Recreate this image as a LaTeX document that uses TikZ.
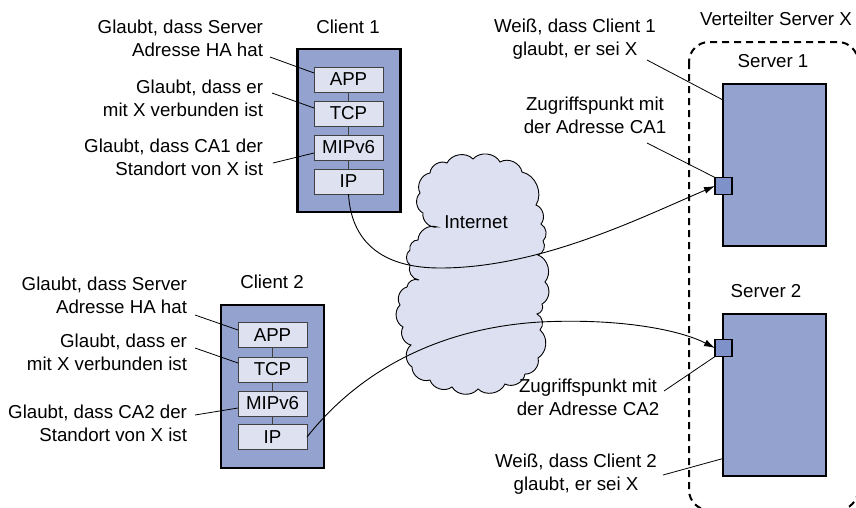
\documentclass[tikz,border=0pt]{standalone}
\usepackage{fontspec}
\setmainfont{Liberation Sans}
\usetikzlibrary{arrows.meta}
\definecolor{boxblue}{RGB}{147,162,207}
\definecolor{layerfill}{RGB}{222,225,240}
\definecolor{cloudfill}{RGB}{221,224,240}
\definecolor{apblue}{RGB}{126,145,200}
\begin{document}
\begin{tikzpicture}[x=1pt,y=-1pt,
  every node/.style={font=\fontsize{18.7}{23}\selectfont, inner sep=0pt, outer sep=0pt},
  host/.style={draw=black, line width=2.4pt, fill=boxblue, minimum width=103, minimum height=163},
  layer/.style={draw=black!75, line width=0.9pt, fill=layerfill, minimum width=69, minimum height=25},
  serverbox/.style={draw=black, line width=2pt, fill=boxblue, minimum width=103, minimum height=162},
  apbox/.style={draw=black, line width=1.1pt, fill=apblue, minimum width=17, minimum height=17},
  leader/.style={draw=black, line width=0.8pt},
  stack/.style={draw=black!75, line width=0.9pt},
  link/.style={draw=black, line width=0.9pt, -{Latex[length=11pt,width=7pt]}},
  note/.style={align=right, anchor=base east},
  cnote/.style={align=center, anchor=base},
]
\useasboundingbox (0,0) rectangle (856,507);

% distributed server boundary (partly outside the page)
\begin{scope}
  \clip (0,0) rectangle (856,507);
  \draw[line width=2pt, dash pattern=on 7pt off 5pt, rounded corners=20pt]
    (689,42) rectangle (858,510);
\end{scope}

% Internet cloud
\path[draw=black, line width=0.9pt, fill=cloudfill]
  (447,163) to[bend left=55] (473,159) to[bend left=55] (500,162)
  to[bend left=55] (522,172) to[bend left=55] (536,205)
  to[bend left=55] (541,224) to[bend left=55] (543,241)
  to[bend left=55] (538,255) to[bend left=55] (545,282)
  to[bend left=55] (542,304) to[bend left=55] (537,314)
  to[bend left=55] (540,330) to[bend left=55] (538,358)
  to[bend left=55] (525,374) to[bend left=55] (505,384)
  to[bend left=55] (478,389) to[bend left=55] (452,387)
  to[bend left=55] (430,380) to[bend left=55] (412,367)
  to[bend left=55] (411,345) to[bend left=55] (403,327)
  to[bend left=55] (400,305) to[bend left=55] (407,287)
  to[bend left=55] (419,280) to[bend left=55] (410,265)
  to[bend left=55] (410,250) to[bend left=55] (418,240)
  to[bend left=55] (437,227) to[bend left=55] (423,213)
  to[bend left=55] (420,193) to[bend left=55] (430,173)
  to[bend left=55] (447,163) -- cycle;
\node (inet) [anchor=base] at (476,228) {Internet};

% Client 1
\node (c1) [host] at (349,130.5) {};
\node (c1t) [anchor=base] at (348,33) {Client 1};
\node (c1app) [layer] at (348.5,79.5) {APP};
\node (c1tcp) [layer] at (348.5,113.5) {TCP};
\node (c1mip) [layer] at (348.5,147.5) {MIPv6};
\node (c1ip)  [layer] at (348.5,181.5) {IP};
\draw[stack] (c1app) -- (c1tcp) (c1tcp) -- (c1mip) (c1mip) -- (c1ip);

% Client 2
\node (c2) [host] at (272.5,386.5) {};
\node (c2t) [anchor=base] at (272,288) {Client 2};
\node (c2app) [layer] at (272.5,335) {APP};
\node (c2tcp) [layer] at (272.5,369.5) {TCP};
\node (c2mip) [layer] at (272.5,403.5) {MIPv6};
\node (c2ip)  [layer] at (272.5,437) {IP};
\draw[stack] (c2app) -- (c2tcp) (c2tcp) -- (c2mip) (c2mip) -- (c2ip);

% Servers
\node (xt) [anchor=base] at (776,25) {Verteilter Server X};
\node (s1) [serverbox] at (774.5,165) {};
\node (s1t) [anchor=base] at (773,67) {Server 1};
\node (ap1) [apbox] at (723.5,186) {};
\node (s2) [serverbox] at (774.5,394.5) {};
\node (s2t) [anchor=base] at (766,297) {Server 2};
\node (ap2) [apbox] at (723.5,348) {};

% Two-line notes, placed by the baseline of their last line
\node (n1a) [note] at (263,56) {Glaubt, dass Server\\Adresse HA hat};
\node (n1b) [note] at (263,116) {Glaubt, dass er\\mit X verbunden ist};
\node (n1c) [note] at (263,175) {Glaubt, dass CA1 der\\Standort von X ist};
\node (n2a) [note] at (187,313) {Glaubt, dass Server\\Adresse HA hat};
\node (n2b) [note] at (187,370) {Glaubt, dass er\\mit X verbunden ist};
\node (n2c) [note] at (187,441) {Glaubt, dass CA2 der\\Standort von X ist};
\node (m1a) [cnote] at (575,55) {Weiß, dass Client 1\\glaubt, er sei X};
\node (m1b) [cnote] at (595,133) {Zugriffspunkt mit\\der Adresse CA1};
\node (m2b) [cnote] at (588,415) {Zugriffspunkt mit\\der Adresse CA2};
\node (m2a) [cnote] at (576,490) {Weiß, dass Client 2\\glaubt, er sei X};

% Leader line ends next to the notes
\coordinate (e1a) at (270,57);
\coordinate (e1b) at (272,93);
\coordinate (e1c) at (273,163);
\coordinate (e2a) at (195,315);
\coordinate (e2b) at (195,348);
\coordinate (e2c) at (195,415);
\coordinate (f1a) at (647,60);
\coordinate (f1b) at (647,143);
\coordinate (f2b) at (664,391);
\coordinate (f2a) at (663,475);

\draw[leader] (e1a) -- ([yshift=6.5pt]c1app.west);
\draw[leader] (e1b) -- ([yshift=5.5pt]c1tcp.west);
\draw[leader] (e1c) -- ([yshift=-5.5pt]c1mip.west);
\draw[leader] (e2a) -- ([yshift=5pt]c2app.west);
\draw[leader] (e2b) -- ([yshift=6.5pt]c2tcp.west);
\draw[leader] (e2c) -- ([yshift=-4.5pt]c2mip.west);
\draw[leader] (f1a) -- ([yshift=-16pt]s1.north west);
\draw[leader] (f1b) -- (ap1.north west);
\draw[leader] (f2b) -- (ap2.south west);
\draw[leader] (f2a) -- ([yshift=17pt]s2.south west);

% Connections through the Internet
\draw[link] (c1ip.south) .. controls (351,240) and (380,268) .. (440,268)
  .. controls (540,268) and (640,218) .. (ap1.west);
\draw[link] (c2ip.east) .. controls (360,370) and (440,328) .. (540,322)
  .. controls (620,318) and (680,330) .. (ap2.west);
\end{tikzpicture}
\end{document}
